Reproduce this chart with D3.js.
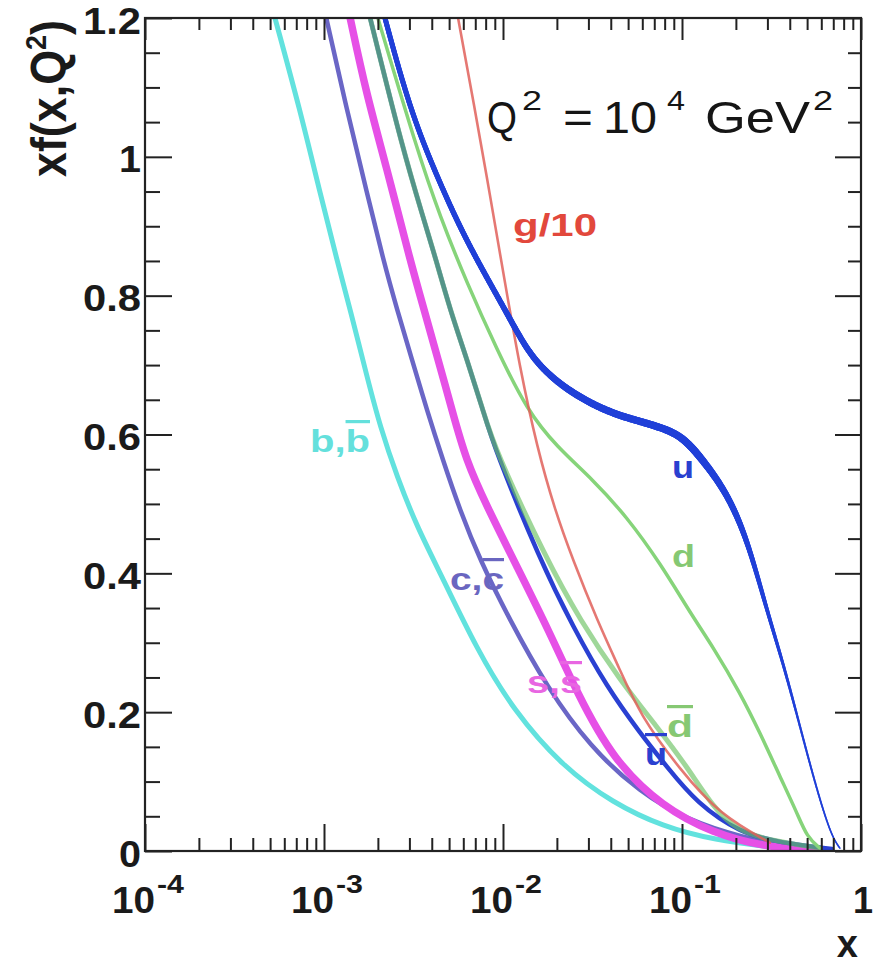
<!DOCTYPE html>
<html><head><meta charset="utf-8">
<script src="https://cdn.jsdelivr.net/npm/d3@7"></script>
<style>html,body{margin:0;padding:0;background:#fff}</style>
</head><body><svg id="c" width="886" height="964"></svg>
<script>
// ---- data (x, x f(x,Q^2)) ----
const xMajor = [1e-4, 1e-3, 1e-2, 1e-1, 1];
const xExp = ["-4", "-3", "-2", "-1", ""];
const yMajor = [0, 0.2, 0.4, 0.6, 0.8, 1, 1.2];

const bPts = [[5.32e-4,1.20],[7.34e-4,1.068],[9.50e-4,0.948],[1.18e-3,0.852],[1.40e-3,0.780],[1.74e-3,0.683],[2.06e-3,0.611],[2.56e-3,0.539],[3.31e-3,0.467],[4.45e-3,0.401],[7.16e-3,0.290],[1.14e-2,0.203],[2.16e-2,0.121],[4.12e-2,0.069],[7.83e-2,0.035],[0.149,0.016],[0.353,0.004]];
const cPts = [[1.03e-3,1.20],[1.34e-3,1.068],[1.74e-3,0.948],[2.14e-3,0.852],[2.56e-3,0.780],[3.10e-3,0.708],[3.76e-3,0.635],[4.62e-3,0.563],[5.75e-3,0.491],[7.44e-3,0.419],[1.09e-2,0.333],[1.76e-2,0.236],[3.06e-2,0.150],[5.83e-2,0.084],[0.107,0.045],[0.211,0.020],[0.456,0.004]];
const sPts = [[1.40e-3,1.20],[1.72e-3,1.092],[2.22e-3,0.988],[3.02e-3,0.852],[3.62e-3,0.780],[4.34e-3,0.708],[5.19e-3,0.635],[6.21e-3,0.563],[8.04e-3,0.499],[1.20e-2,0.409],[1.83e-2,0.314],[2.59e-2,0.228],[4.12e-2,0.131],[7.83e-2,0.063],[0.149,0.026],[0.283,0.006],[0.590,0.001]];
const ubarPts = [[1.81e-3,1.20],[2.76e-3,1.010],[3.57e-3,0.914],[4.22e-3,0.852],[5.06e-3,0.780],[6.29e-3,0.708],[7.73e-3,0.635],[9.02e-3,0.578],[1.61e-2,0.419],[2.46e-2,0.323],[3.81e-2,0.236],[5.83e-2,0.170],[8.25e-2,0.121],[0.121,0.069],[0.211,0.026],[0.353,0.012],[0.689,0.003]];
const dbarPts = [[1.81e-3,1.20],[2.76e-3,1.010],[3.57e-3,0.914],[4.22e-3,0.852],[5.06e-3,0.780],[6.29e-3,0.708],[7.73e-3,0.635],[9.02e-3,0.578],[1.76e-2,0.419],[2.69e-2,0.333],[4.50e-2,0.246],[7.25e-2,0.179],[0.107,0.121],[0.149,0.063],[0.203,0.030],[0.298,0.016],[0.590,0.004]];
const dPts = [[2.00e-3,1.20],[3.31e-3,1.010],[4.45e-3,0.914],[6.29e-3,0.818],[9.26e-3,0.722],[1.36e-2,0.635],[2.00e-2,0.582],[3.18e-2,0.535],[4.93e-2,0.481],[7.54e-2,0.415],[0.115,0.337],[0.149,0.294],[0.211,0.228],[0.273,0.170],[0.353,0.107],[0.439,0.055],[0.499,0.020],[0.590,0.004]];
const uPts = [[2.19e-3,1.20],[3.02e-3,1.068],[4.28e-3,0.971],[6.29e-3,0.876],[1.07e-2,0.772],[1.42e-2,0.712],[2.08e-2,0.671],[3.18e-2,0.643],[4.12e-2,0.631],[4.93e-2,0.624],[7.54e-2,0.611],[0.101,0.597],[0.131,0.563],[0.178,0.516],[0.231,0.450],[0.298,0.347],[0.353,0.285],[0.417,0.218],[0.499,0.141],[0.590,0.073],[0.689,0.020],[0.763,0.004]];
const gPts = [[5.61e-3,1.20],[6.89e-3,1.075],[8.46e-3,0.945],[1.03e-2,0.816],[1.24e-2,0.697],[1.55e-2,0.581],[1.95e-2,0.491],[2.46e-2,0.419],[3.35e-2,0.333],[4.50e-2,0.261],[5.83e-2,0.196],[9.74e-2,0.117],[0.163,0.052],[0.310,0.012]];

// ---- drawing ----
const svg = d3.select("#c");
const L = 145, R = 861, T = 18, B = 851;
const x = d3.scaleLog().domain([1e-4, 1]).range([L, R]);
const y = d3.scaleLinear().domain([0, 1.2]).range([B, T]);
const FONT = "'Liberation Sans', Arial, Helvetica, sans-serif";

svg.append("rect").attr("width", 886).attr("height", 964).attr("fill", "#fff");
svg.append("defs").append("clipPath").attr("id", "clip")
  .append("rect").attr("x", L).attr("y", T).attr("width", R - L).attr("height", B - T);

const line = d3.line().x(d => x(d[0])).y(d => y(d[1])).curve(d3.curveBasis);
const plot = svg.append("g").attr("clip-path", "url(#clip)");
function draw(pts, color, w, op) {
  return plot.append("path").attr("d", line(pts)).attr("fill", "none")
    .attr("stroke", color).attr("stroke-width", w).attr("stroke-opacity", op || 1)
    .attr("stroke-linejoin", "round").attr("stroke-linecap", "round");
}
// variable-width band (width depends on x)
function drawTaper(pts, color, wScale) {
  const node = plot.append("path").attr("d", line(pts)).attr("fill", "none").attr("stroke", "none").node();
  const total = node.getTotalLength();
  const g = plot.append("g").attr("stroke", color).attr("stroke-linecap", "round");
  let prev = node.getPointAtLength(0);
  for (let s = 1.5; s <= total + 1.5; s += 1.5) {
    const p = node.getPointAtLength(Math.min(s, total));
    g.append("line").attr("x1", prev.x).attr("y1", prev.y).attr("x2", p.x).attr("y2", p.y)
      .attr("stroke-width", wScale(x.invert((prev.x + p.x) / 2)));
    prev = p;
  }
}
draw(bPts, "#62e2de", 5);
draw(cPts, "#6a66c6", 4.5);
draw(sPts, "#e650e6", 7.5);
draw(ubarPts, "#2a40d2", 4.5);
draw(dbarPts, "#6cc263", 5, 0.65);
draw(dPts, "#86d47a", 3.5);
draw(gPts, "#e0605a", 2.6, 0.85);
drawTaper(uPts, "#2040d8", d3.scaleLog()
  .domain([2e-3, 1e-2, 2.5e-2, 0.12, 0.2, 0.3, 0.45, 0.8])
  .range([5, 5.5, 7, 7.5, 6, 3.8, 2.2, 1.4]).clamp(true));

// ---- axes ----
const xMinor = [];
xMajor.slice(0, 4).forEach(d => { for (let m = 2; m <= 9; m++) xMinor.push(d * m); });
const yMinor = d3.range(0, 1.2001, 0.05).filter(v => Math.abs(v * 5 - Math.round(v * 5)) > 1e-6);

function styleAxis(g) {
  g.select(".domain").remove();
  g.selectAll(".tick line").attr("stroke", "#222").attr("stroke-width", 2);
}
svg.append("g").attr("transform", `translate(0,${B})`)
  .call(d3.axisBottom(x).tickValues(xMajor).tickSize(-27).tickFormat("")).call(styleAxis);
svg.append("g").attr("transform", `translate(0,${B})`)
  .call(d3.axisBottom(x).tickValues(xMinor).tickSize(-13).tickFormat("")).call(styleAxis);
svg.append("g").attr("transform", `translate(0,${T})`)
  .call(d3.axisTop(x).tickValues(xMajor).tickSize(-22).tickFormat("")).call(styleAxis);
svg.append("g").attr("transform", `translate(0,${T})`)
  .call(d3.axisTop(x).tickValues(xMinor).tickSize(-12).tickFormat("")).call(styleAxis);
const yAx = svg.append("g").attr("transform", `translate(${L},0)`)
  .call(d3.axisLeft(y).tickValues(yMajor).tickSize(-27).tickPadding(4)
    .tickFormat(d => String(+d.toFixed(1)))).call(styleAxis);
yAx.selectAll(".tick text").attr("font-family", FONT).attr("font-size", 36)
  .attr("font-weight", "bold").attr("fill", "#1a1a1a").attr("dy", "0.42em")
  .attr("textLength", d => d === 0 || d === 1 ? 22 : 58).attr("lengthAdjust", "spacingAndGlyphs");
svg.append("g").attr("transform", `translate(${L},0)`)
  .call(d3.axisLeft(y).tickValues(yMinor).tickSize(-15).tickFormat("")).call(styleAxis);
svg.append("g").attr("transform", `translate(${R},0)`)
  .call(d3.axisRight(y).tickValues(yMajor).tickSize(-26).tickFormat("")).call(styleAxis);
svg.append("g").attr("transform", `translate(${R},0)`)
  .call(d3.axisRight(y).tickValues(yMinor).tickSize(-13).tickFormat("")).call(styleAxis);

svg.append("rect").attr("x", L).attr("y", T).attr("width", R - L).attr("height", B - T)
  .attr("fill", "none").attr("stroke", "#222").attr("stroke-width", 2.2);

// x tick labels 10^n
const xl = svg.append("g").attr("font-family", FONT).attr("font-weight", "bold").attr("fill", "#1a1a1a");
xMajor.forEach((v, i) => {
  const px = x(v);
  if (xExp[i] === "") {
    xl.append("text").attr("x", px + 2).attr("y", 913).attr("text-anchor", "middle")
      .attr("font-size", 36).text("1");
  } else {
    xl.append("text").attr("x", px - 33).attr("y", 913).attr("font-size", 36)
      .attr("textLength", 43).attr("lengthAdjust", "spacingAndGlyphs").text("10");
    xl.append("text").attr("x", px + 12).attr("y", 893).attr("font-size", 25)
      .attr("textLength", 27).attr("lengthAdjust", "spacingAndGlyphs").text(xExp[i]);
  }
});
// axis titles
svg.append("text").attr("x", 858).attr("y", 957).attr("text-anchor", "end")
  .attr("font-family", FONT).attr("font-weight", "bold").attr("font-size", 38).attr("fill", "#1a1a1a").text("x");
const yt = svg.append("text").attr("transform", "translate(66,177) rotate(-90)")
  .attr("font-family", FONT).attr("font-weight", "bold").attr("font-size", 50).attr("fill", "#1a1a1a")
  .attr("textLength", 157).attr("lengthAdjust", "spacingAndGlyphs");
yt.append("tspan").text("xf(x,Q");
yt.append("tspan").attr("font-size", 30).attr("dy", -20).text("2");
yt.append("tspan").attr("dy", 20).text(")");

// Q^2 label
const qg = svg.append("g").attr("font-family", FONT).attr("fill", "#151515");
[
  { t: "Q", x: 487, y: 133, fs: 44, len: 30 },
  { t: "2", x: 522, y: 110, fs: 28, len: 20 },
  { t: "=", x: 563, y: 133, fs: 44, len: 30 },
  { t: "10", x: 603, y: 133, fs: 44, len: 54 },
  { t: "4", x: 667, y: 110, fs: 28, len: 18 },
  { t: "GeV", x: 705, y: 133, fs: 44, len: 105 },
  { t: "2", x: 813, y: 110, fs: 28, len: 20 }
].forEach(p => qg.append("text").attr("x", p.x).attr("y", p.y).attr("font-size", p.fs)
  .attr("textLength", p.len).attr("lengthAdjust", "spacingAndGlyphs").text(p.t));

// curve labels
const lg = svg.append("g").attr("font-family", FONT).attr("font-weight", "bold");
[
  { a: "g/10", b: "", x: 513, y: 236, len: 84, c: "#e2483c", fs: 32 },
  { a: "b,", b: "b", x: 310, y: 452, len: 60, c: "#64e0dc", fs: 32 },
  { a: "c,", b: "c", x: 450, y: 590, len: 54, c: "#6a66c0", fs: 32 },
  { a: "s,", b: "s", x: 527, y: 693, len: 55, c: "#e866e2", fs: 32 },
  { a: "", b: "u", x: 645, y: 765, len: 22, c: "#2a40d0", fs: 32 },
  { a: "", b: "d", x: 667, y: 737, len: 26, c: "#86c873", fs: 32 },
  { a: "u", b: "", x: 672, y: 478, len: 22, c: "#2a40d0", fs: 32 },
  { a: "d", b: "", x: 672, y: 567, len: 23, c: "#86c873", fs: 32 }
].forEach(p => {
  const t = lg.append("text").attr("x", p.x).attr("y", p.y).attr("font-size", p.fs).attr("fill", p.c)
    .attr("textLength", p.len).attr("lengthAdjust", "spacingAndGlyphs");
  if (p.a) t.append("tspan").text(p.a);
  if (p.b) t.append("tspan").style("text-decoration", "overline").text(p.b);
});
</script></body></html>
